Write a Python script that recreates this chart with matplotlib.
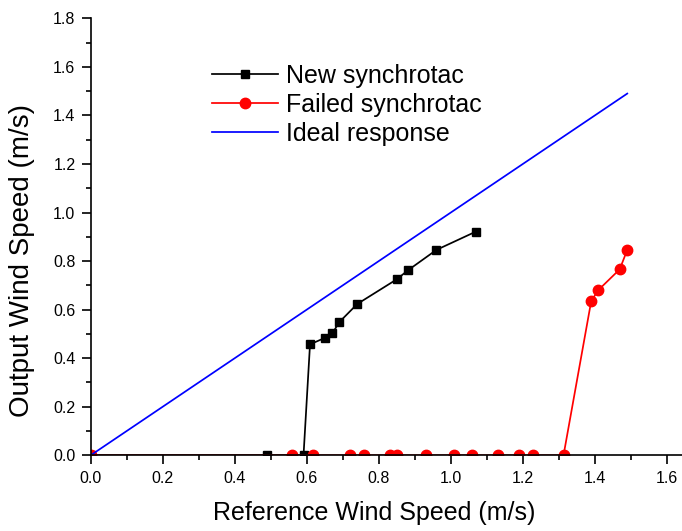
import numpy as np
import matplotlib.pyplot as plt
from matplotlib.ticker import MultipleLocator

plt.rcParams['font.family'] = ['Liberation Sans', 'DejaVu Sans']

# reference speed vs measured output speed (m/s)
new_x = [0.0, 0.489, 0.591, 0.609, 0.651, 0.671, 0.690, 0.740, 0.850, 0.881, 0.960, 1.069]
new_y = [0.0, 0.0, 0.0, 0.457, 0.484, 0.502, 0.548, 0.623, 0.725, 0.762, 0.846, 0.921]

failed_x = [0.0, 0.558, 0.618, 0.720, 0.760, 0.830, 0.850, 0.931, 1.010, 1.060, 1.130,
            1.190, 1.229, 1.313, 1.390, 1.410, 1.469, 1.490]
failed_y = [0.0, 0.0, 0.0, 0.0, 0.0, 0.0, 0.0, 0.0, 0.0, 0.0, 0.0,
            0.0, 0.0, 0.0, 0.636, 0.681, 0.766, 0.846]

ideal_x = [0.0, 1.49]
ideal_y = [0.0, 1.49]

fig = plt.figure(figsize=(6.82, 5.31), dpi=100)
ax = fig.add_axes([0.133, 0.1426, 0.867, 0.8229])

ax.plot(new_x, new_y, color='black', marker='s', markersize=6, lw=1.25, label='New synchrotac')
ax.plot(failed_x, failed_y, color='red', marker='o', markersize=7.5, lw=1.25, label='Failed synchrotac')
ax.plot(ideal_x, ideal_y, color='blue', lw=1.25, label='Ideal response')

ax.set_xlim(0, 1.642)
ax.set_ylim(0, 1.8)
ax.xaxis.set_major_locator(MultipleLocator(0.2))
ax.xaxis.set_minor_locator(MultipleLocator(0.1))
ax.yaxis.set_major_locator(MultipleLocator(0.2))
ax.yaxis.set_minor_locator(MultipleLocator(0.1))
ax.xaxis.set_major_formatter(plt.FormatStrFormatter('%.1f'))
ax.yaxis.set_major_formatter(plt.FormatStrFormatter('%.1f'))
ax.tick_params(which='major', direction='out', length=6.5, width=1.2, labelsize=11.5, pad=4.5)
ax.tick_params(which='minor', direction='out', length=3.6, width=1.2)

for side in ['top', 'right']:
    ax.spines[side].set_visible(False)
for side in ['left', 'bottom']:
    ax.spines[side].set_linewidth(1.2)

ax.set_xlabel('Reference Wind Speed (m/s)', fontsize=18)
ax.set_ylabel('Output Wind Speed (m/s)', fontsize=20)
ax.xaxis.set_label_coords(0.479, -0.1045)
ax.yaxis.set_label_coords(-0.094, 0.445)

ax.legend(loc='upper left', bbox_to_anchor=(0.205, 0.895), frameon=False, fontsize=18,
          borderpad=0, borderaxespad=0, handlelength=2.65, handletextpad=0.33,
          labelspacing=0.19)

fig.savefig('out.png', dpi=100)
